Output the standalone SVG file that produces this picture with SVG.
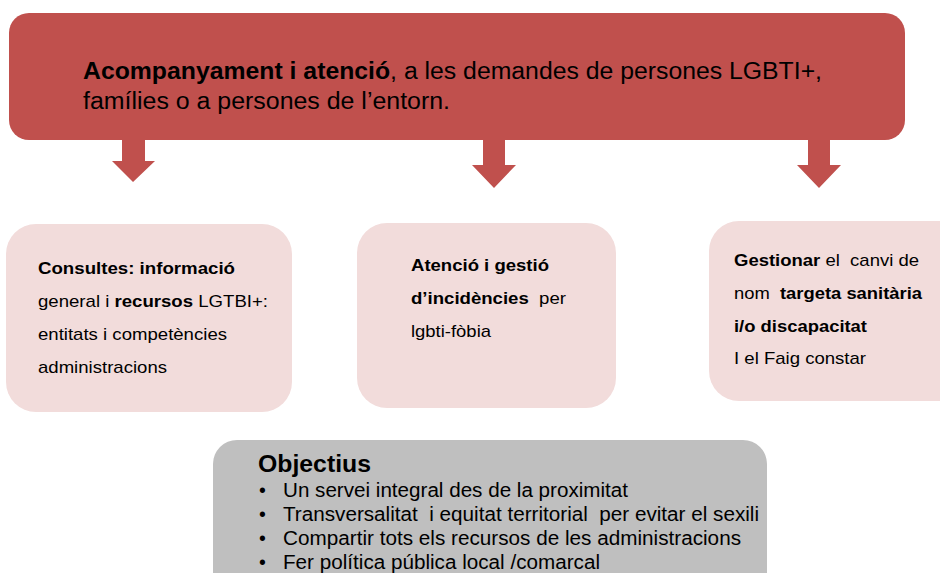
<svg xmlns="http://www.w3.org/2000/svg" width="940" height="573" viewBox="0 0 940 573">
<style>
text{font-family:"Liberation Sans",Arial,sans-serif;fill:#000;white-space:pre}
.b{font-weight:bold}
.top{font-size:23.5px}
.pk{font-size:17px}
.ob{font-size:19.5px}
.arr{fill:#C0504D}
.pink{fill:#F2DCDB}
</style>
<rect width="940" height="573" fill="#fff"/>
<g id="top">
<rect x="9" y="13" width="896" height="127" rx="20" fill="#C0504D"/>
<text class="top" x="83" y="79" textLength="739" lengthAdjust="spacingAndGlyphs"><tspan class="b">Acompanyament i atenció</tspan>, a les demandes de persones LGBTI+,</text>
<text class="top" x="83" y="109" textLength="367" lengthAdjust="spacingAndGlyphs">famílies o a persones de l’entorn.</text>
</g>
<g id="connectors">
<polygon class="arr" points="122,140 145,140 145,161 155,161 133,182 112,161 122,161"/>
<polygon class="arr" points="483,140 505,140 505,165 516,165 494,188 472,165 483,165"/>
<polygon class="arr" points="808,140 830,140 830,165 841,165 819,188 797,165 808,165"/>
</g>
<g id="n1">
<rect class="pink" x="6" y="224" width="286" height="188" rx="30"/>
<text class="pk b" x="38" y="274" textLength="197" lengthAdjust="spacingAndGlyphs">Consultes: informació</text>
<text class="pk" x="38" y="307" textLength="230" lengthAdjust="spacingAndGlyphs">general i <tspan class="b">recursos</tspan> LGTBI+:</text>
<text class="pk" x="38" y="340" textLength="189" lengthAdjust="spacingAndGlyphs">entitats i competències</text>
<text class="pk" x="38" y="373" textLength="129" lengthAdjust="spacingAndGlyphs">administracions</text>
</g>
<g id="n2">
<rect class="pink" x="357" y="223" width="259" height="185" rx="30"/>
<text class="pk b" x="411" y="271" textLength="138" lengthAdjust="spacingAndGlyphs">Atenció i gestió</text>
<text class="pk" x="411" y="304" textLength="155" lengthAdjust="spacingAndGlyphs"><tspan class="b">d’incidències</tspan>  per</text>
<text class="pk" x="411" y="337" textLength="80" lengthAdjust="spacingAndGlyphs">lgbti-fòbia</text>
</g>
<g id="n3">
<rect class="pink" x="709" y="221" width="260" height="180" rx="30"/>
<text class="pk" x="734" y="266" textLength="185" lengthAdjust="spacingAndGlyphs"><tspan class="b">Gestionar</tspan> el  canvi de</text>
<text class="pk" x="734" y="299" textLength="188" lengthAdjust="spacingAndGlyphs">nom  <tspan class="b">targeta sanitària</tspan></text>
<text class="pk b" x="734" y="332" textLength="133" lengthAdjust="spacingAndGlyphs">i/o discapacitat</text>
<text class="pk" x="734" y="364" textLength="132" lengthAdjust="spacingAndGlyphs">I el Faig constar</text>
</g>
<g id="objectius">
<rect x="213" y="440" width="554" height="160" rx="24" fill="#BFBFBF"/>
<text x="258" y="472" font-size="23.5" class="b" textLength="113" lengthAdjust="spacingAndGlyphs">Objectius</text>
<text class="ob" x="259" y="497">•</text><text class="ob" x="283" y="497" textLength="345" lengthAdjust="spacingAndGlyphs">Un servei integral des de la proximitat</text>
<text class="ob" x="259" y="521">•</text><text class="ob" x="283" y="521" textLength="476" lengthAdjust="spacingAndGlyphs">Transversalitat  i equitat territorial  per evitar el sexili</text>
<text class="ob" x="259" y="545">•</text><text class="ob" x="283" y="545" textLength="458" lengthAdjust="spacingAndGlyphs">Compartir tots els recursos de les administracions</text>
<text class="ob" x="259" y="569">•</text><text class="ob" x="283" y="569" textLength="317" lengthAdjust="spacingAndGlyphs">Fer política pública local /comarcal</text>
</g>
</svg>
